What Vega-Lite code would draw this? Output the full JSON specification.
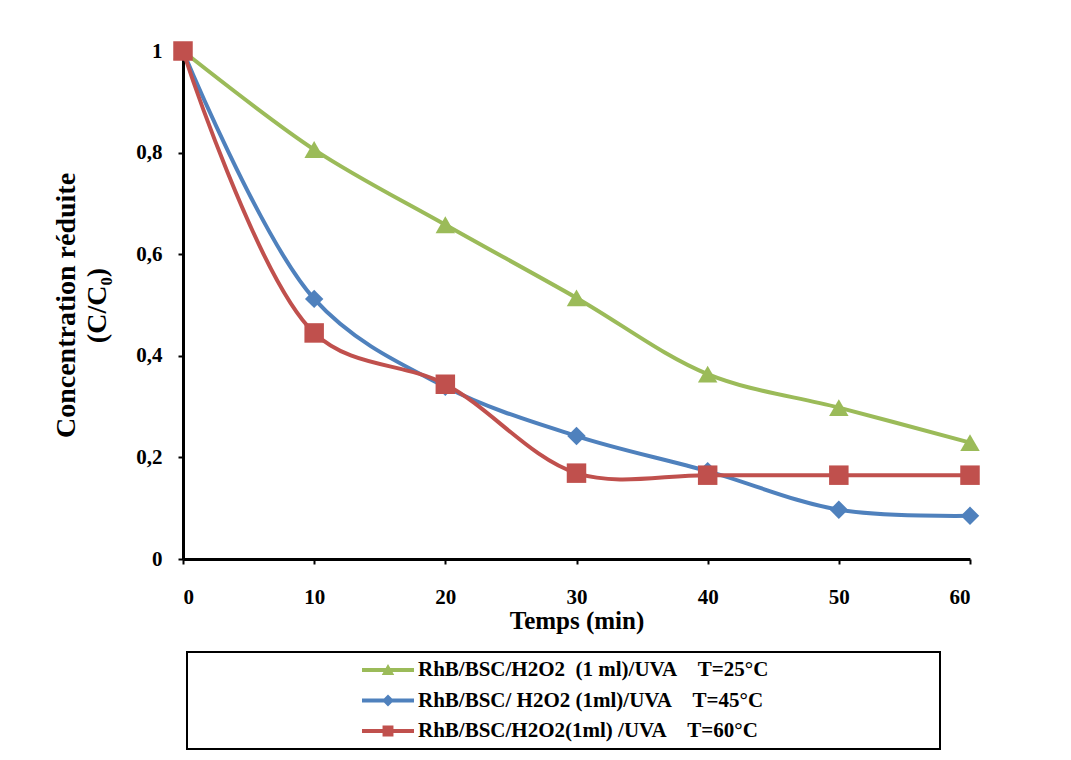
{
  "$schema": "https://vega.github.io/schema/vega-lite/v6.json",
  "width": 787,
  "height": 508,
  "autosize": "none",
  "padding": {"left": 183, "top": 51, "right": 101, "bottom": 201},
  "background": "white",
  "config": {
    "view": {"stroke": null},
    "font": "Liberation Serif",
    "axis": {
      "grid": false,
      "domainColor": "black",
      "domainWidth": 3,
      "tickColor": "black",
      "tickWidth": 2,
      "tickSize": 5,
      "labelFont": "Liberation Serif",
      "labelFontWeight": "bold",
      "labelFontSize": 21,
      "labelColor": "black",
      "titleFont": "Liberation Serif",
      "titleFontWeight": "bold",
      "titleColor": "black"
    },
    "legend": {"strokeColor": "black", "strokeWidth": 2}
  },
  "data": {
    "values": [
      {"series": "RhB/BSC/H2O2\u00a0 (1 ml)/UVA\u00a0\u00a0\u00a0 T=25°C", "t": 0, "c": 1.0},
      {"series": "RhB/BSC/H2O2\u00a0 (1 ml)/UVA\u00a0\u00a0\u00a0 T=25°C", "t": 10, "c": 0.806},
      {"series": "RhB/BSC/H2O2\u00a0 (1 ml)/UVA\u00a0\u00a0\u00a0 T=25°C", "t": 20, "c": 0.658},
      {"series": "RhB/BSC/H2O2\u00a0 (1 ml)/UVA\u00a0\u00a0\u00a0 T=25°C", "t": 30, "c": 0.514},
      {"series": "RhB/BSC/H2O2\u00a0 (1 ml)/UVA\u00a0\u00a0\u00a0 T=25°C", "t": 40, "c": 0.364},
      {"series": "RhB/BSC/H2O2\u00a0 (1 ml)/UVA\u00a0\u00a0\u00a0 T=25°C", "t": 50, "c": 0.298},
      {"series": "RhB/BSC/H2O2\u00a0 (1 ml)/UVA\u00a0\u00a0\u00a0 T=25°C", "t": 60, "c": 0.229},
      {"series": "RhB/BSC/ H2O2 (1ml)/UVA\u00a0\u00a0\u00a0 T=45°C", "t": 0, "c": 1.0},
      {"series": "RhB/BSC/ H2O2 (1ml)/UVA\u00a0\u00a0\u00a0 T=45°C", "t": 10, "c": 0.512},
      {"series": "RhB/BSC/ H2O2 (1ml)/UVA\u00a0\u00a0\u00a0 T=45°C", "t": 20, "c": 0.339},
      {"series": "RhB/BSC/ H2O2 (1ml)/UVA\u00a0\u00a0\u00a0 T=45°C", "t": 30, "c": 0.242},
      {"series": "RhB/BSC/ H2O2 (1ml)/UVA\u00a0\u00a0\u00a0 T=45°C", "t": 40, "c": 0.173},
      {"series": "RhB/BSC/ H2O2 (1ml)/UVA\u00a0\u00a0\u00a0 T=45°C", "t": 50, "c": 0.097},
      {"series": "RhB/BSC/ H2O2 (1ml)/UVA\u00a0\u00a0\u00a0 T=45°C", "t": 60, "c": 0.085},
      {"series": "RhB/BSC/H2O2(1ml) /UVA\u00a0\u00a0\u00a0 T=60°C", "t": 0, "c": 1.0},
      {"series": "RhB/BSC/H2O2(1ml) /UVA\u00a0\u00a0\u00a0 T=60°C", "t": 10, "c": 0.445},
      {"series": "RhB/BSC/H2O2(1ml) /UVA\u00a0\u00a0\u00a0 T=60°C", "t": 20, "c": 0.344},
      {"series": "RhB/BSC/H2O2(1ml) /UVA\u00a0\u00a0\u00a0 T=60°C", "t": 30, "c": 0.169},
      {"series": "RhB/BSC/H2O2(1ml) /UVA\u00a0\u00a0\u00a0 T=60°C", "t": 40, "c": 0.165},
      {"series": "RhB/BSC/H2O2(1ml) /UVA\u00a0\u00a0\u00a0 T=60°C", "t": 50, "c": 0.165},
      {"series": "RhB/BSC/H2O2(1ml) /UVA\u00a0\u00a0\u00a0 T=60°C", "t": 60, "c": 0.165}
    ]
  },
  "encoding": {
    "x": {
      "field": "t",
      "type": "quantitative",
      "scale": {"domain": [0, 60], "nice": false, "zero": false},
      "axis": {
        "title": "Temps (min)",
        "values": [0, 10, 20, 30, 40, 50, 60],
        "labelPadding": 22,
        "titleFontSize": 25,
        "titlePadding": 1
      }
    },
    "y": {
      "field": "c",
      "type": "quantitative",
      "scale": {"domain": [0, 1], "nice": false},
      "axis": {
        "title": ["Concentration réduite", "(C/C₀)"],
        "values": [0, 0.2, 0.4, 0.6, 0.8, 1],
        "format": ".1~f",
        "labelExpr": "replace(datum.label, '.', ',')",
        "labelPadding": 16,
        "titleFontSize": 28,
        "titleLineHeight": 31,
        "titlePadding": 24
      }
    },
    "color": {
      "field": "series",
      "type": "nominal",
      "scale": {
        "domain": [
          "RhB/BSC/H2O2\u00a0 (1 ml)/UVA\u00a0\u00a0\u00a0 T=25°C",
          "RhB/BSC/ H2O2 (1ml)/UVA\u00a0\u00a0\u00a0 T=45°C",
          "RhB/BSC/H2O2(1ml) /UVA\u00a0\u00a0\u00a0 T=60°C"
        ],
        "range": ["#9BBB59", "#4F81BD", "#C0504D"]
      },
      "legend": {
        "title": null,
        "orient": "none",
        "direction": "vertical",
        "legendX": 4,
        "legendY": 601,
        "padding": 8,
        "clipHeight": 20,
        "rowPadding": 9.5,
        "symbolSize": 2704,
        "symbolStrokeWidth": 0,
        "symbolType": {"expr": "datum.index === 0 ? 'M-1,-0.075L1,-0.075L1,0.075L-1,0.075ZM-0.24,0.19L0,-0.23L0.24,0.19Z' : datum.index === 1 ? 'M-1,-0.075L1,-0.075L1,0.075L-1,0.075ZM-0.23,0L0,-0.23L0.23,0L0,0.23Z' : 'M-1,-0.075L1,-0.075L1,0.075L-1,0.075ZM-0.21,-0.21L0.21,-0.21L0.21,0.21L-0.21,0.21Z'"},
        "symbolOffset": 167,
        "labelOffset": 4,
        "labelFont": "Liberation Serif",
        "labelFontWeight": "bold",
        "labelFontSize": 21,
        "labelColor": "black",
        "labelLimit": 900,
        "labelExpr": "datum.label + '\u00a0\u00a0\u00a0\u00a0\u00a0\u00a0\u00a0\u00a0\u00a0\u00a0\u00a0\u00a0\u00a0\u00a0\u00a0\u00a0\u00a0\u00a0\u00a0\u00a0\u00a0\u00a0\u00a0\u00a0\u00a0\u00a0\u00a0\u00a0\u00a0\u00a0\u00a0\u200b'"
      }
    }
  },
  "layer": [
    {"mark": {"type": "line", "interpolate": "catmull-rom", "strokeWidth": 4}},
    {
      "transform": [{"filter": "indexof(datum.series, '25°C') >= 0"}],
      "mark": {"type": "point", "filled": true, "opacity": 1, "size": 380, "shape": "triangle-up"}
    },
    {
      "transform": [{"filter": "indexof(datum.series, '45°C') >= 0"}],
      "mark": {"type": "point", "filled": true, "opacity": 1, "size": 340, "shape": "diamond"}
    },
    {
      "transform": [{"filter": "indexof(datum.series, '60°C') >= 0"}],
      "mark": {"type": "point", "filled": true, "opacity": 1, "size": 380, "shape": "square"}
    }
  ]
}
